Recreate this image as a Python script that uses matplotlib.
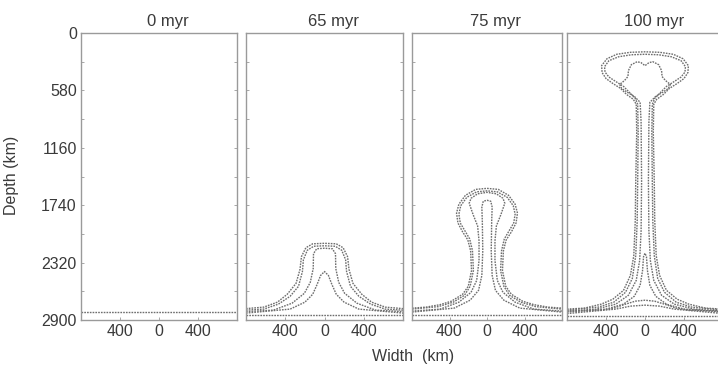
import numpy as np
import matplotlib
matplotlib.use("Agg")
from matplotlib import pyplot as plt

plt.rcParams['font.family'] = ['Liberation Sans', 'DejaVu Sans']

# panel titles
times = ['0 myr', '65 myr', '75 myr', '100 myr']
depth_ticks = [0, 580, 1160, 1740, 2320, 2900]
width_ticks = [-400, 0, 400]

# half-profiles of the temperature contours: (half width km, depth km),
# read off the figure from the axis outwards, mirrored about x = 0
base_0 = [[(0, 2815), (800, 2815)]]

plume_65 = [
    [(0, 2125), (120, 2130), (190, 2170), (235, 2260), (250, 2390), (290, 2530),
     (380, 2640), (480, 2720), (620, 2770), (800, 2785)],
    [(0, 2150), (110, 2155), (175, 2195), (215, 2290), (225, 2410), (265, 2560),
     (350, 2660), (470, 2740), (620, 2790), (800, 2800)],
    [(0, 2175), (80, 2180), (112, 2230), (115, 2380), (145, 2520), (205, 2630),
     (330, 2730), (520, 2800), (800, 2815)],
    [(0, 2410), (40, 2450), (75, 2540), (120, 2640), (200, 2720), (350, 2790),
     (800, 2830)],
    [(0, 2850), (800, 2850)],
]

plume_75 = [
    [(0, 1570), (120, 1580), (230, 1640), (300, 1730), (325, 1820), (310, 1920),
     (260, 2010), (205, 2090), (175, 2200), (165, 2400), (200, 2560), (260, 2640),
     (380, 2710), (500, 2745), (650, 2770), (800, 2780)],
    [(0, 1595), (110, 1605), (215, 1660), (280, 1745), (300, 1830), (285, 1920),
     (235, 2000), (185, 2080), (155, 2200), (145, 2400), (180, 2560), (240, 2650),
     (360, 2720), (520, 2765), (800, 2790)],
    [(0, 1610), (100, 1625), (170, 1670), (190, 1720), (150, 1830), (100, 1950),
     (85, 2100), (85, 2300), (110, 2500), (170, 2620), (300, 2720), (500, 2790),
     (800, 2810)],
    [(0, 1690), (40, 1700), (55, 1760), (50, 1900), (45, 2200), (55, 2450),
     (90, 2600), (180, 2700), (350, 2780), (800, 2820)],
    [(0, 2845), (800, 2845)],
]

plume_100 = [
    [(0, 190), (150, 195), (290, 215), (390, 260), (445, 330), (440, 400),
     (400, 460), (330, 510), (250, 560), (190, 620), (120, 670), (90, 720),
     (85, 1000), (95, 1500), (100, 1900), (115, 2250), (150, 2450), (220, 2600),
     (330, 2690), (450, 2740), (620, 2780), (800, 2790)],
    [(0, 215), (140, 220), (270, 240), (370, 280), (415, 340), (410, 395),
     (370, 445), (300, 490), (220, 540), (160, 600), (100, 660), (75, 720),
     (70, 1000), (75, 1500), (80, 1900), (95, 2250), (130, 2480), (200, 2620),
     (320, 2720), (480, 2770), (800, 2800)],
    [(0, 330), (40, 300), (80, 290), (140, 320), (170, 380), (175, 440),
     (210, 480), (260, 520), (240, 560), (180, 600), (110, 640), (50, 700),
     (40, 900), (35, 1500), (40, 2000), (55, 2300), (90, 2500), (170, 2650),
     (300, 2740), (500, 2790), (800, 2810)],
    [(0, 2225), (15, 2260), (25, 2400), (50, 2550), (110, 2660), (220, 2740),
     (400, 2790), (800, 2820)],
    [(0, 2700), (100, 2710), (200, 2740), (320, 2780), (450, 2800), (800, 2810)],
    [(0, 2750), (150, 2760), (300, 2790), (800, 2835)],
    [(0, 2855), (800, 2855)],
]

panels = [base_0, plume_65, plume_75, plume_100]
lefts = [81, 246, 412, 567]
widths = [156, 157, 150, 156]

W, H = 718, 376
fig = plt.figure(figsize=(W / 100, H / 100), dpi=100)

txt = '#3a3a3a'
for i, (title, contours) in enumerate(zip(times, panels)):
    ax = fig.add_axes([lefts[i] / W, 1 - 320 / H, widths[i] / W, 287 / H])
    for c in contours:
        half = np.array(c, dtype=float)
        xs = np.concatenate([-half[::-1, 0], half[1:, 0]])
        ys = np.concatenate([half[::-1, 1], half[1:, 1]])
        ax.plot(xs, ys, color='#6e6e6e', lw=1.0, ls=(0, (1.2, 0.8)))
    ax.set_xlim(-800, 800)
    ax.set_ylim(2900, 0)
    ax.set_xticks(width_ticks)
    ax.set_xticklabels([str(abs(t)) for t in width_ticks])
    ax.set_yticks(depth_ticks)
    ax.set_yticks(np.arange(0, 2901, 290), minor=True)
    ax.tick_params(which='both', direction='in', length=2.5, width=0.6,
                   colors='#999999', labelcolor=txt, labelsize=11.5,
                   right=True, pad=3)
    if i == 0:
        ax.set_yticklabels([str(t) for t in depth_ticks])
    else:
        ax.set_yticklabels([])
    for s in ax.spines.values():
        s.set_color('#9a9a9a')
        s.set_linewidth(1.0)
        s.set_linestyle((0, (1, 1)))
    ax.set_title(title, fontsize=12, color=txt, x=0.56, pad=5)

fig.text(12 / W, 1 - 175 / H, 'Depth (km)', rotation=90, ha='center', va='center',
         fontsize=11.5, color=txt)
fig.text(413 / W, 1 - 356 / H, 'Width  (km)', ha='center', va='center',
         fontsize=11.5, color=txt)

fig.savefig('out.png', dpi=100)
